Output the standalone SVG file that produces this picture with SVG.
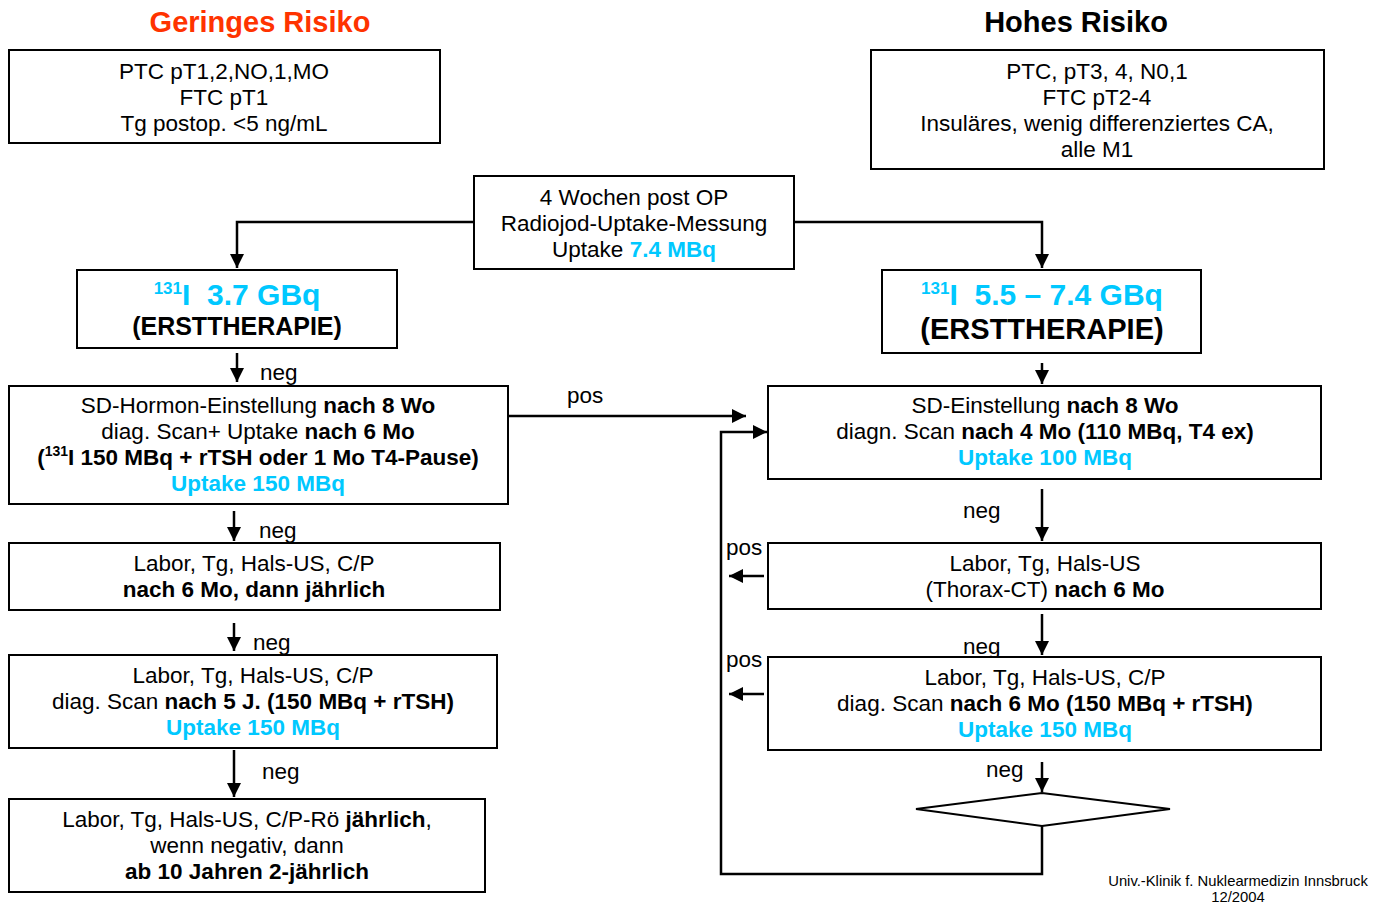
<svg xmlns="http://www.w3.org/2000/svg" width="1385" height="905" viewBox="0 0 1385 905">
<style>
.box{fill:#fff;stroke:#000;stroke-width:2}
.t{font-family:"Liberation Sans",Arial,sans-serif;font-size:22.5px;fill:#000;text-anchor:middle}
.b{font-weight:bold}
.c{fill:#00C8FF;font-weight:bold}
.lbl{font-family:"Liberation Sans",Arial,sans-serif;font-size:22.5px;fill:#000}
.ln{fill:none;stroke:#000;stroke-width:2.5}
.ttl{font-family:"Liberation Sans",Arial,sans-serif;font-size:29px;font-weight:bold;text-anchor:middle}
.pre{white-space:pre}
</style>
<defs>
<marker id="ah" markerUnits="userSpaceOnUse" markerWidth="16" markerHeight="16" viewBox="0 0 16 16" refX="15" refY="8" orient="auto">
<path d="M1,1 L15,8 L1,15 Z" fill="#000"/>
</marker>
</defs>
<rect width="1385" height="905" fill="#fff"/>

<text class="ttl" x="260" y="32" fill="#FF3300">Geringes Risiko</text>
<text class="ttl" x="1076" y="32" fill="#000">Hohes Risiko</text>

<g id="connectors">
<path class="ln" d="M474,222 H237 V268" marker-end="url(#ah)"/>
<path class="ln" d="M794,222 H1042 V268" marker-end="url(#ah)"/>
<path class="ln" d="M237,353 V382" marker-end="url(#ah)"/>
<path class="ln" d="M1042,363 V384" marker-end="url(#ah)"/>
<path class="ln" d="M508,416 H746" marker-end="url(#ah)"/>
<path class="ln" d="M1042,826 V874 H721 V432 H767" marker-end="url(#ah)"/>
<path class="ln" d="M234,511 V541" marker-end="url(#ah)"/>
<path class="ln" d="M234,623 V651" marker-end="url(#ah)"/>
<path class="ln" d="M234,750 V797" marker-end="url(#ah)"/>
<path class="ln" d="M1042,489 V541" marker-end="url(#ah)"/>
<path class="ln" d="M1042,614 V655" marker-end="url(#ah)"/>
<path class="ln" d="M1042,762 V792" marker-end="url(#ah)"/>
<path class="ln" d="M764,576 H729" marker-end="url(#ah)"/>
<path class="ln" d="M764,694 H729" marker-end="url(#ah)"/>
<text class="lbl" x="260" y="380">neg</text>
<text class="lbl" x="567" y="403">pos</text>
<text class="lbl" x="259" y="538">neg</text>
<text class="lbl" x="253" y="650">neg</text>
<text class="lbl" x="262" y="779">neg</text>
<text class="lbl" x="963" y="518">neg</text>
<text class="lbl" x="963" y="654">neg</text>
<text class="lbl" x="986" y="777">neg</text>
<text class="lbl" x="726" y="555">pos</text>
<text class="lbl" x="726" y="667">pos</text>
</g>

<g id="nodeA">
<rect class="box" x="9" y="50" width="431" height="93"/>
<text class="t" x="224" y="79">PTC pT1,2,NO,1,MO</text>
<text class="t" x="224" y="105">FTC pT1</text>
<text class="t" x="224" y="131">Tg postop. &lt;5 ng/mL</text>
</g>

<g id="nodeB">
<rect class="box" x="871" y="50" width="453" height="119"/>
<text class="t" x="1097" y="79">PTC, pT3, 4, N0,1</text>
<text class="t" x="1097" y="105">FTC pT2-4</text>
<text class="t" x="1097" y="131">Insuläres, wenig differenziertes CA,</text>
<text class="t" x="1097" y="157">alle M1</text>
</g>

<g id="nodeC">
<rect class="box" x="474" y="176" width="320" height="93"/>
<text class="t" x="634" y="205">4 Wochen post OP</text>
<text class="t" x="634" y="231">Radiojod-Uptake-Messung</text>
<text class="t" x="634" y="257">Uptake <tspan class="c">7.4 MBq</tspan></text>
</g>

<g id="nodeD">
<rect class="box" x="77" y="270" width="320" height="78"/>
<text class="t c pre" x="237" y="305" style="font-size:30px"><tspan style="font-size:17px" dy="-11">131</tspan><tspan dy="11">I  3.7 GBq</tspan></text>
<text class="t b" x="237" y="335" style="font-size:25px">(ERSTTHERAPIE)</text>
</g>

<g id="nodeE">
<rect class="box" x="882" y="270" width="319" height="83"/>
<text class="t c pre" x="1042" y="305" style="font-size:30px"><tspan style="font-size:17px" dy="-11">131</tspan><tspan dy="11">I  5.5 – 7.4 GBq</tspan></text>
<text class="t b" x="1042" y="339" style="font-size:29px">(ERSTTHERAPIE)</text>
</g>

<g id="nodeF">
<rect class="box" x="9" y="386" width="499" height="118"/>
<text class="t" x="258" y="413">SD-Hormon-Einstellung <tspan class="b">nach 8 Wo</tspan></text>
<text class="t" x="258" y="439">diag. Scan+ Uptake <tspan class="b">nach 6 Mo</tspan></text>
<text class="t b" x="258" y="465">(<tspan style="font-size:14px" dy="-9">131</tspan><tspan dy="9">I 150 MBq + rTSH oder 1 Mo T4-Pause)</tspan></text>
<text class="t c" x="258" y="491">Uptake 150 MBq</text>
</g>

<g id="nodeG">
<rect class="box" x="768" y="386" width="553" height="93"/>
<text class="t" x="1045" y="413">SD-Einstellung <tspan class="b">nach 8 Wo</tspan></text>
<text class="t" x="1045" y="439">diagn. Scan <tspan class="b">nach 4 Mo (110 MBq, T4 ex)</tspan></text>
<text class="t c" x="1045" y="465">Uptake 100 MBq</text>
</g>

<g id="nodeH">
<rect class="box" x="9" y="543" width="491" height="67"/>
<text class="t" x="254" y="571">Labor, Tg, Hals-US, C/P</text>
<text class="t b" x="254" y="597">nach 6 Mo, dann jährlich</text>
</g>

<g id="nodeI">
<rect class="box" x="9" y="655" width="488" height="93"/>
<text class="t" x="253" y="683">Labor, Tg, Hals-US, C/P</text>
<text class="t" x="253" y="709">diag. Scan <tspan class="b">nach 5 J. (150 MBq + rTSH)</tspan></text>
<text class="t c" x="253" y="735">Uptake 150 MBq</text>
</g>

<g id="nodeJ">
<rect class="box" x="9" y="799" width="476" height="93"/>
<text class="t" x="247" y="827">Labor, Tg, Hals-US, C/P-Rö <tspan class="b">jährlich</tspan>,</text>
<text class="t" x="247" y="853">wenn negativ, dann</text>
<text class="t b" x="247" y="879">ab 10 Jahren 2-jährlich</text>
</g>

<g id="nodeK">
<rect class="box" x="768" y="543" width="553" height="66"/>
<text class="t" x="1045" y="571">Labor, Tg, Hals-US</text>
<text class="t" x="1045" y="597">(Thorax-CT) <tspan class="b">nach 6 Mo</tspan></text>
</g>

<g id="nodeL">
<rect class="box" x="768" y="657" width="553" height="93"/>
<text class="t" x="1045" y="685">Labor, Tg, Hals-US, C/P</text>
<text class="t" x="1045" y="711">diag. Scan <tspan class="b">nach 6 Mo (150 MBq + rTSH)</tspan></text>
<text class="t c" x="1045" y="737">Uptake 150 MBq</text>
</g>

<g id="nodeM">
<polygon class="box" points="916,809 1042,793 1170,809 1042,826"/>
</g>

<g id="footer">
<text class="t" x="1238" y="886" style="font-size:14.8px">Univ.-Klinik f. Nuklearmedizin Innsbruck</text>
<text class="t" x="1238" y="902" style="font-size:14.8px">12/2004</text>
</g>
</svg>
